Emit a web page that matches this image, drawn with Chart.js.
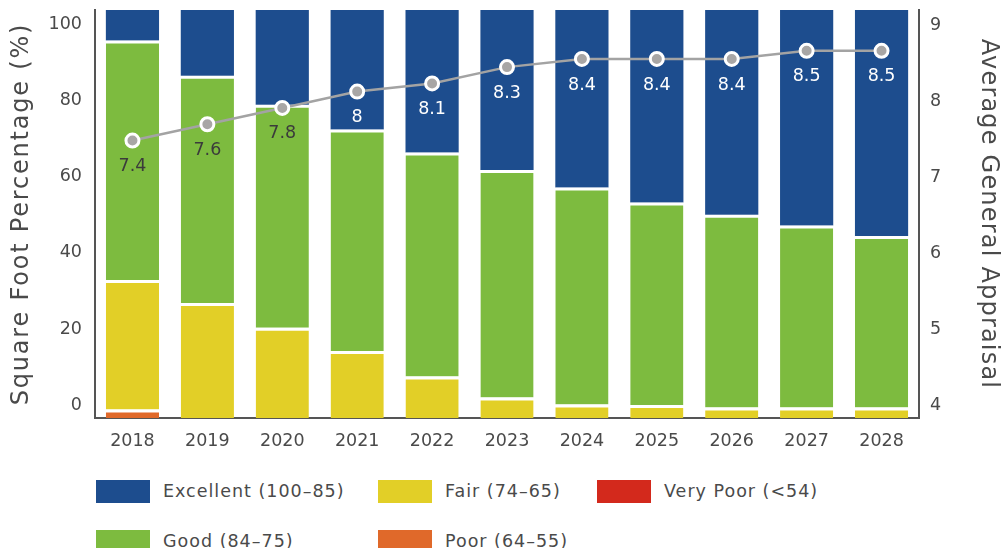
<!DOCTYPE html>
<html>
<head>
<meta charset="utf-8">
<script src="https://cdn.jsdelivr.net/npm/chart.js@4.4.1/dist/chart.umd.min.js"></script>
<style>
body { margin: 0; background: #fff; width: 1003px; height: 548px; overflow: hidden; position: relative; font-family: "DejaVu Sans", sans-serif; }
#legend .item { position: absolute; display: flex; align-items: center; font-size: 17.5px; color: #4a4a4a; letter-spacing: 1px; white-space: nowrap; }
#legend .box { width: 54px; height: 23px; margin-right: 13px; }
</style>
</head>
<body>
<canvas id="condition_chart" width="1003" height="465"></canvas>
<div id="legend"></div>
<script>
// 年度
const years = ['2018', '2019', '2020', '2021', '2022', '2023', '2024', '2025', '2026', '2027', '2028'];
// 状態別の面積割合 (%)
const excellent = [7.5, 16.1, 23.2, 29.3, 34.9, 39.2, 43.5, 47.2, 50.2, 52.8, 55.4];
const good = [58.7, 55.7, 54.7, 54.3, 54.9, 55.8, 53.2, 49.6, 47.2, 44.6, 42.0];
const fair = [31.7, 28.2, 22.1, 16.4, 10.2, 5.0, 3.3, 3.2, 2.6, 2.6, 2.6];
const poor = [2.1, 0, 0, 0, 0, 0, 0, 0, 0, 0, 0];
const very_poor = [0, 0, 0, 0, 0, 0, 0, 0, 0, 0, 0];
// 平均評価
const appraisal = [7.4, 7.6, 7.8, 8, 8.1, 8.3, 8.4, 8.4, 8.4, 8.5, 8.5];
// 目盛り
const percent_ticks = [0, 20, 40, 60, 80, 100];
const appraisal_ticks = [4, 5, 6, 7, 8, 9];

const text_color = '#4a4a4a';
const axis_color = '#555555';
const font_name = '"DejaVu Sans", sans-serif';

// 折れ線の値ラベル
const point_labels = {
    id: 'point_labels',
    afterDatasetsDraw(chart) {
        const ctx = chart.ctx;
        const line_meta = chart.getDatasetMeta(5);
        const top_meta = chart.getDatasetMeta(4);
        ctx.save();
        ctx.font = '17.5px ' + font_name;
        ctx.textAlign = 'center';
        ctx.textBaseline = 'middle';
        line_meta.data.forEach(function (pt, i) {
            const y = pt.y + 26;
            // 青い部分に乗るラベルは白
            ctx.fillStyle = y < top_meta.data[i].base ? '#ffffff' : '#3b3b3b';
            ctx.fillText(appraisal[i].toString(), pt.x, y);
        });
        ctx.restore();
    }
};

// 縦軸のラベル分の余白を消す
function fit_side_axis(width) {
    return function (s) {
        s.width = width;
        s.paddingTop = 0;
        s.paddingBottom = 0;
    };
}

// 軸タイトルの字間を広げる
function spaced_title(spacing) {
    return function (s) {
        if (s._spaced) return;
        s._spaced = true;
        const draw_title = s.drawTitle;
        s.drawTitle = function () {
            const ctx = this.ctx;
            ctx.letterSpacing = spacing;
            draw_title.apply(this, arguments);
            ctx.letterSpacing = '0px';
        };
    };
}

const bar_border = { top: 3, left: 0, right: 0, bottom: 0 };

const condition_chart = new Chart(document.getElementById('condition_chart').getContext('2d'), {
    type: 'bar',
    data: {
        labels: years,
        datasets: [
            { label: 'Very Poor (<54)', data: very_poor, backgroundColor: '#d3291c', borderColor: '#ffffff', borderWidth: bar_border, yAxisID: 'y', order: 1 },
            { label: 'Poor (64–55)', data: poor, backgroundColor: '#e0692a', borderColor: '#ffffff', borderWidth: bar_border, yAxisID: 'y', order: 1 },
            { label: 'Fair (74–65)', data: fair, backgroundColor: '#e2cf27', borderColor: '#ffffff', borderWidth: bar_border, yAxisID: 'y', order: 1 },
            { label: 'Good (84–75)', data: good, backgroundColor: '#7dbb3f', borderColor: '#ffffff', borderWidth: bar_border, yAxisID: 'y', order: 1 },
            { label: 'Excellent (100–85)', data: excellent, backgroundColor: '#1d4d8e', borderWidth: 0, yAxisID: 'y', order: 1 },
            {
                type: 'line', label: 'Average General Appraisal', data: appraisal, yAxisID: 'y1', order: 0,
                borderColor: '#a3a3a3', borderWidth: 2.5, pointRadius: 6.5, pointHoverRadius: 6.5,
                pointBackgroundColor: '#a8a6a5', pointBorderColor: '#ffffff', pointBorderWidth: 3
            }
        ]
    },
    options: {
        responsive: false,
        animation: false,
        layout: { padding: { top: 10, left: 0, right: 0, bottom: 0 } },
        datasets: { bar: { barPercentage: 0.71, categoryPercentage: 1 } },
        plugins: { legend: { display: false }, tooltip: { enabled: false } },
        scales: {
            x: {
                stacked: true,
                grid: { display: false, drawTicks: false },
                border: { color: axis_color, width: 2 },
                ticks: { color: text_color, font: { family: font_name, size: 17.5 }, padding: 13 },
                afterFit: function (s) { s.height = 47; }
            },
            y: { display: false, stacked: true, min: 0, max: 100 },
            y1: { display: false, min: 4, max: 9 },
            yl: {
                position: 'left',
                min: -3.42,
                max: 103.9,
                afterBuildTicks: function (s) { s.ticks = percent_ticks.map(function (v) { return { value: v }; }); },
                grid: { display: false, drawTicks: false },
                border: { color: axis_color, width: 2 },
                ticks: { color: text_color, font: { family: font_name, size: 17.5 }, padding: 13 },
                title: { display: true, text: 'Square Foot Percentage (%)', color: text_color, font: { family: font_name, size: 24 }, padding: { top: 7, bottom: 0 } },
                afterFit: fit_side_axis(95),
                afterUpdate: spaced_title('1.8px')
            },
            yr: {
                position: 'right',
                min: 3.829,
                max: 9.197,
                afterBuildTicks: function (s) { s.ticks = appraisal_ticks.map(function (v) { return { value: v }; }); },
                grid: { display: false, drawTicks: false },
                border: { color: axis_color, width: 2 },
                ticks: { color: text_color, font: { family: font_name, size: 17.5 }, padding: 11 },
                title: { display: true, text: 'Average General Appraisal', color: text_color, font: { family: font_name, size: 24 }, padding: { top: 0, bottom: 0 } },
                afterFit: fit_side_axis(84),
                afterUpdate: spaced_title('1.2px')
            }
        }
    },
    plugins: [point_labels]
});

// 凡例 (2行3列, 列優先)
const legend_order = [4, 3, 2, 1, 0];
const legend_slots = [[96, 491], [96, 541], [378, 491], [378, 541], [597, 491]];
const legend = document.getElementById('legend');
legend_order.forEach(function (ds_index, k) {
    const ds = condition_chart.data.datasets[ds_index];
    const item = document.createElement('div');
    item.className = 'item';
    item.style.left = legend_slots[k][0] + 'px';
    item.style.top = (legend_slots[k][1] - 12) + 'px';
    item.style.height = '24px';
    const box = document.createElement('span');
    box.className = 'box';
    box.style.background = ds.backgroundColor;
    const txt = document.createElement('span');
    txt.textContent = ds.label;
    item.appendChild(box);
    item.appendChild(txt);
    legend.appendChild(item);
});
</script>
</body>
</html>
